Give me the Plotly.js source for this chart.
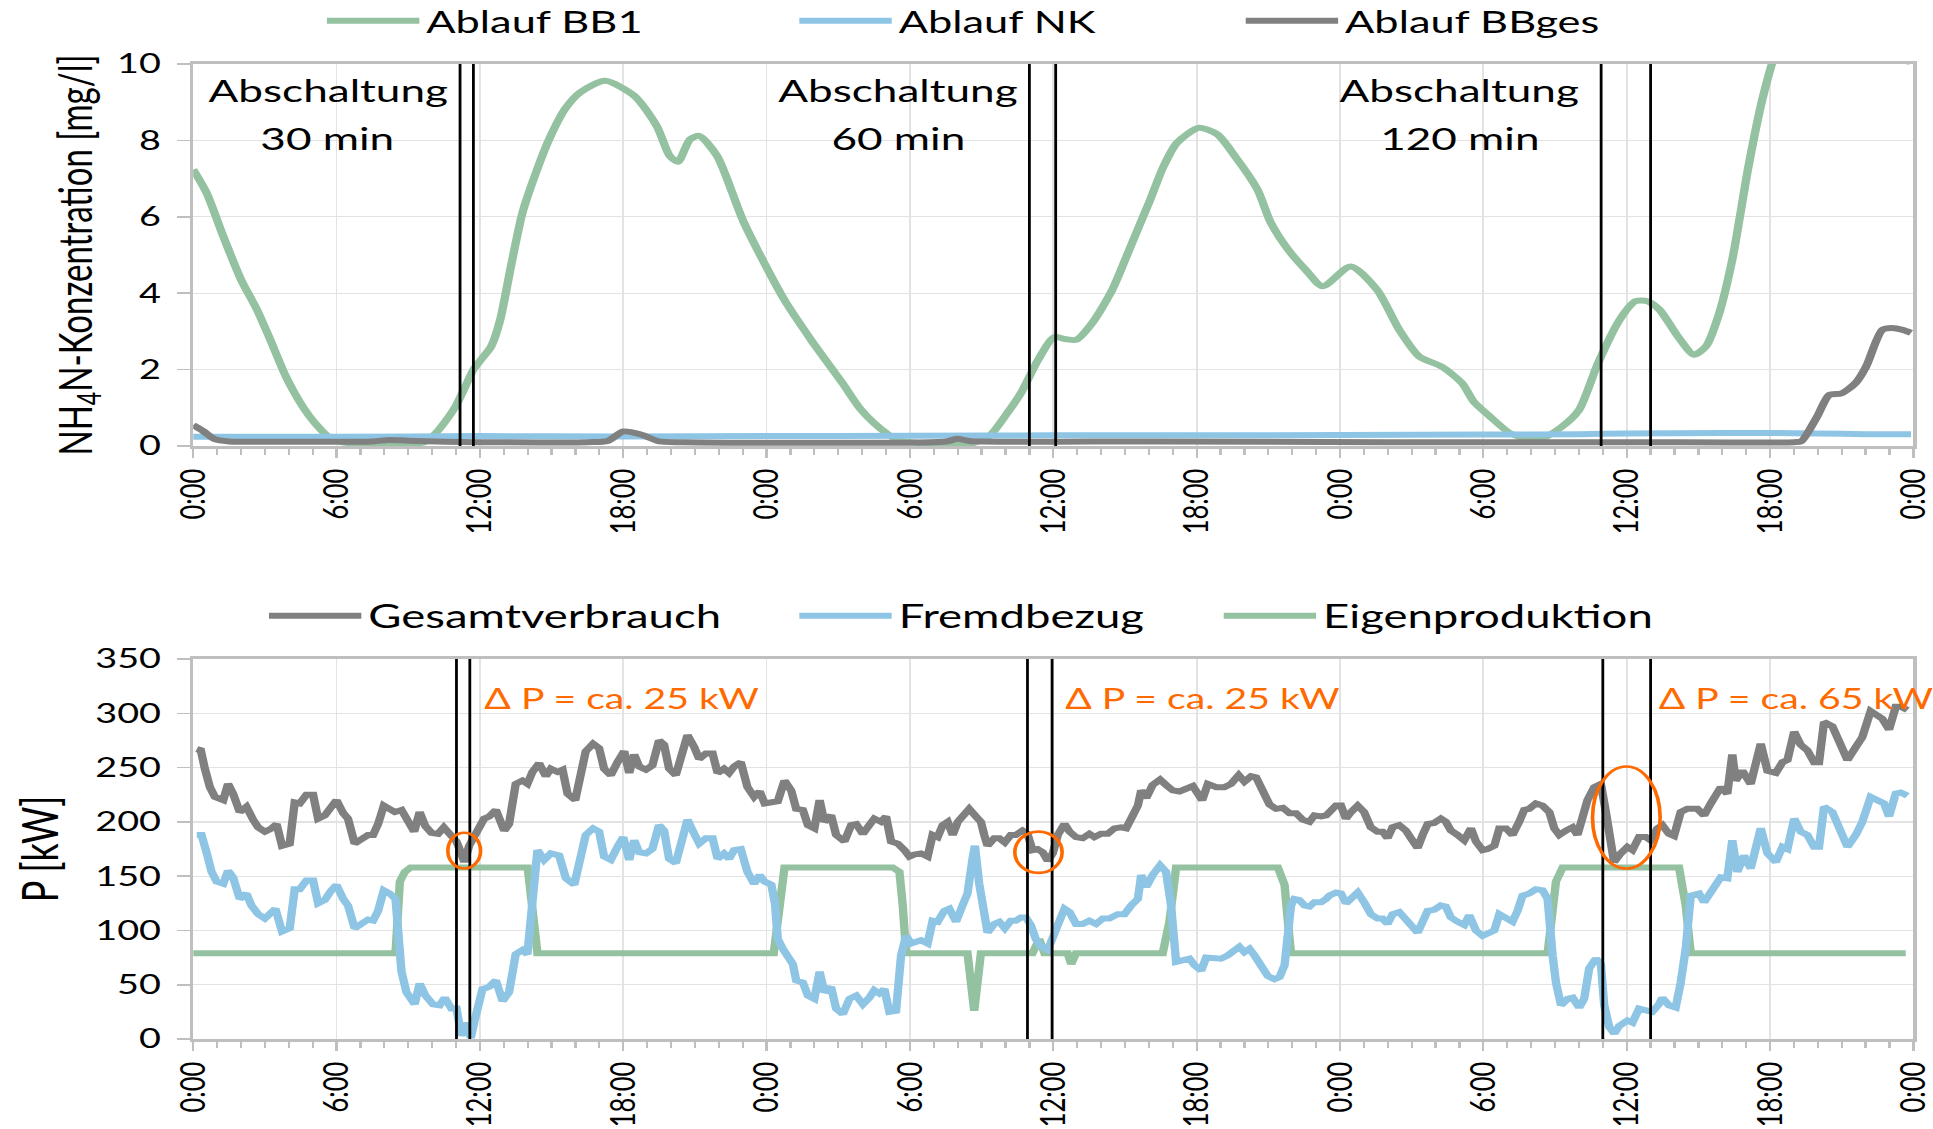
<!DOCTYPE html>
<html>
<head>
<meta charset="utf-8">
<script src="https://cdn.plot.ly/plotly-3.0.1.min.js"></script>
<style>
html,body{margin:0;padding:0;background:#fff;overflow:hidden;}
#chart{width:1381px;height:1129px;transform:scale(1.39971,1);transform-origin:0 0;}
</style>
</head>
<body>
<div id="chart"></div>
<script>
// ---------- tick labels ----------
const tickHours = [0,6,12,18,24,30,36,42,48,54,60,66,72];
const tickLabels = ["0:00","6:00","12:00","18:00","0:00","6:00","12:00","18:00","0:00","6:00","12:00","18:00","0:00"];

// ---------- top chart: NH4-N concentration [mg/l] ----------
const bb1_h = [0,0.56,1.26,2.0,2.67,3.23,3.88,4.63,5.1,5.65,6.2,7.0,8.0,9.0,9.7,10.1,10.5,10.98,11.35,11.73,12.1,12.47,12.85,13.3,13.78,14.35,14.9,15.56,16.2,17.24,18.46,19.4,19.95,20.29,20.8,21.18,21.93,23.05,24.74,25.86,27.17,27.9,28.5,29.03,29.5,30.5,31.5,32.5,33.3,34.07,34.64,35.37,36.04,36.5,36.96,37.63,38.47,39.3,40.06,40.6,41.18,42.1,42.86,43.6,44.54,45.1,45.83,46.58,47.27,48.45,49.55,50.48,51.32,52.25,53.1,53.6,54.28,55.13,55.8,56.47,57.3,58.0,58.8,59.7,60.37,60.87,61.37,62.14,62.82,63.32,63.83,64.42,65.1,65.68,66.28,67.0,68.5,70.0,71.2,71.9];
const bb1_v = [7.24,6.63,5.49,4.36,3.57,2.78,1.82,0.99,0.6,0.25,0.1,0.06,0.05,0.05,0.1,0.3,0.6,1.03,1.5,2.0,2.3,2.6,3.3,4.7,6.1,7.16,8.03,8.82,9.26,9.56,9.17,8.38,7.59,7.44,8.03,8.12,7.59,5.85,3.83,2.78,1.65,0.99,0.6,0.33,0.15,0.07,0.05,0.05,0.25,0.86,1.38,2.26,2.85,2.8,2.78,3.22,4.09,5.32,6.45,7.3,7.94,8.33,8.16,7.59,6.72,5.85,5.14,4.6,4.18,4.7,4.09,3.04,2.34,2.08,1.65,1.16,0.77,0.33,0.2,0.2,0.51,0.94,2.17,3.3,3.79,3.79,3.57,2.87,2.39,2.61,3.39,4.88,7.33,9.08,10.4,11.5,12.5,12.0,11.0,10.0];

const nk_h = [0,6,12,18,24,30,36,42,48,54,58,60,64,66,68,70,71.9];
const nk_v = [0.24,0.24,0.26,0.25,0.26,0.27,0.28,0.28,0.29,0.3,0.31,0.33,0.34,0.34,0.33,0.31,0.31];

const bbges_h = [0,0.4,0.9,1.5,4,7.5,8.2,9,12,16.5,17.35,18.0,18.74,19.5,20.5,31.5,32.0,32.5,40,50,60,67.0,67.3,67.97,68.48,68.99,69.58,70.02,70.7,71.1,71.55,71.9];
const bbges_v = [0.55,0.4,0.18,0.12,0.11,0.12,0.16,0.14,0.1,0.1,0.13,0.38,0.3,0.12,0.1,0.12,0.19,0.13,0.12,0.1,0.1,0.1,0.12,0.77,1.34,1.38,1.65,2.08,3.04,3.09,3.04,2.96];

// shut-off markers (hours) and labels, top chart
const topCuts = [11.17,11.73,35.0,36.1,58.93,61.0];
const abschaltX = [5.64,29.5,53.0];
const abschaltLine1 = ["Abschaltung","Abschaltung","Abschaltung"];
const abschaltLine2 = ["30 min","60 min","120 min"];

// ---------- bottom chart: power [kW] ----------
const ges_h = [0.15,0.32,0.49,0.7,0.91,1.26,1.46,1.67,1.95,2.23,2.51,2.72,3.0,3.28,3.49,3.72,4.04,4.25,4.46,4.74,5.02,5.23,5.51,5.79,6.0,6.28,6.48,6.76,7.04,7.32,7.53,7.74,7.98,8.23,8.44,8.72,9.0,9.25,9.48,9.72,9.97,10.25,10.49,10.74,11.02,11.15,11.35,11.55,11.83,12.18,12.39,12.67,13.02,13.22,13.5,13.78,13.99,14.2,14.48,14.76,14.97,15.25,15.46,15.67,15.99,16.22,16.43,16.74,16.99,17.2,17.48,17.76,18.04,18.25,18.46,18.67,18.95,19.22,19.5,19.71,19.92,20.2,20.48,20.69,20.97,21.18,21.46,21.74,21.95,22.22,22.43,22.64,22.92,23.2,23.48,23.71,23.92,24.27,24.47,24.75,25.03,25.24,25.52,25.73,26.0,26.22,26.42,26.7,26.91,27.26,27.54,27.75,28.03,28.3,28.51,28.79,29.0,29.21,29.49,29.77,29.98,30.19,30.46,30.74,30.95,31.16,31.37,31.58,31.79,32.0,32.2,32.48,32.76,32.97,33.11,33.25,33.53,33.74,33.97,34.22,34.43,34.71,34.92,35.13,35.34,35.56,35.77,35.98,36.19,36.47,36.68,36.95,37.23,37.51,37.72,38.0,38.28,38.56,38.84,39.05,39.33,39.54,39.68,39.89,40.16,40.47,40.72,41.0,41.28,41.56,41.84,42.23,42.47,42.82,43.16,43.44,43.76,44.0,44.28,44.49,44.77,45.05,45.33,45.61,45.89,46.16,46.44,46.72,46.93,47.21,47.42,47.7,47.83,48.04,48.25,48.46,48.74,49.01,49.29,49.57,49.78,49.99,50.2,50.48,50.76,50.97,51.25,51.46,51.67,51.94,52.22,52.43,52.64,52.92,53.2,53.48,53.69,53.97,54.18,54.46,54.67,54.95,55.22,55.5,55.71,55.92,56.2,56.48,56.76,56.97,57.18,57.46,57.73,57.94,58.15,58.36,58.64,58.92,59.13,59.34,59.47,59.75,60.03,60.24,60.52,60.8,61.0,61.28,61.49,61.77,61.98,62.26,62.54,62.96,63.24,63.52,63.94,64.21,64.42,64.56,64.84,65.19,65.61,65.89,66.24,66.52,66.73,67.01,67.28,67.56,67.84,68.05,68.26,68.61,68.89,69.24,69.59,69.86,70.21,70.49,70.7,70.98,71.26,71.47,71.75];
const ges_p = [267,266,249,232,223,220,235,226,209,214,202,195,191,194,198,178,180,218,217,225,225,203,206,215,220,208,203,180,185,188,188,198,215,212,209,211,200,191,209,196,190,189,195,188,182,175,163,178,188,203,205,211,192,198,235,238,235,246,254,242,249,246,248,226,220,249,265,272,268,249,243,255,265,245,262,251,248,252,275,271,249,243,262,280,269,258,263,263,245,249,245,251,255,232,223,228,217,219,219,238,229,212,211,197,194,220,200,206,188,182,197,198,189,197,203,200,205,182,180,174,168,170,171,168,188,186,197,200,188,200,206,212,205,200,188,178,185,185,181,188,188,192,189,174,175,172,164,171,188,198,191,186,185,189,186,189,189,194,195,194,206,215,229,222,234,239,234,229,228,231,233,220,235,232,232,235,243,237,242,241,228,216,212,213,208,208,202,200,206,205,206,214,215,215,203,209,215,209,195,191,191,185,195,197,192,185,176,188,198,199,203,200,192,188,183,194,182,174,175,178,194,194,188,200,211,212,217,215,209,194,188,192,195,188,202,220,232,235,209,172,163,171,177,174,186,186,183,194,197,189,187,209,212,212,206,217,232,226,262,238,247,235,272,247,245,255,257,283,271,266,255,255,292,288,274,257,269,278,302,298,295,285,306,306,303];

const fremd_h = [0.15,0.35,0.56,0.77,0.98,1.26,1.46,1.67,1.95,2.23,2.44,2.72,3.0,3.25,3.44,3.72,4.04,4.25,4.46,4.74,5.02,5.23,5.51,5.79,6.0,6.28,6.48,6.76,7.04,7.32,7.53,7.74,7.98,8.23,8.47,8.58,8.72,8.93,9.27,9.48,9.72,10.04,10.32,10.53,10.81,11.02,11.23,11.44,11.62,11.79,12.11,12.39,12.67,12.95,13.22,13.5,13.78,13.99,14.2,14.41,14.69,14.97,15.32,15.6,15.95,16.22,16.43,16.74,16.99,17.2,17.48,17.76,18.0,18.25,18.46,18.67,18.95,19.22,19.5,19.71,19.92,20.2,20.48,20.69,20.97,21.18,21.46,21.74,21.95,22.22,22.43,22.64,22.92,23.2,23.48,23.71,23.92,24.2,24.35,24.47,24.68,24.89,25.1,25.24,25.52,25.73,26.0,26.22,26.42,26.7,26.91,27.19,27.47,27.75,28.03,28.3,28.51,28.72,28.93,29.14,29.42,29.63,29.84,30.05,30.46,30.74,30.95,31.16,31.44,31.65,31.93,32.2,32.41,32.62,32.72,32.9,33.11,33.25,33.53,33.74,33.97,34.22,34.43,34.64,34.85,35.06,35.27,35.48,35.77,35.98,36.19,36.47,36.68,36.95,37.23,37.51,37.79,38.07,38.35,38.7,38.98,39.26,39.54,39.68,39.89,40.16,40.47,40.72,40.93,41.14,41.42,41.7,41.91,42.19,42.4,42.68,43.02,43.3,43.58,43.79,44.0,44.21,44.42,44.7,44.98,45.26,45.47,45.68,45.82,45.95,46.09,46.3,46.51,46.72,46.93,47.21,47.42,47.55,47.83,48.04,48.25,48.53,48.74,49.01,49.29,49.57,49.78,49.99,50.2,50.48,50.76,50.97,51.25,51.46,51.67,51.94,52.22,52.43,52.64,52.92,53.2,53.41,53.69,53.97,54.25,54.46,54.67,54.95,55.22,55.43,55.64,55.92,56.2,56.48,56.69,56.9,57.04,57.25,57.53,57.74,58.01,58.22,58.43,58.71,58.92,59.06,59.27,59.48,59.68,60.03,60.24,60.52,60.87,61.07,61.35,61.49,61.77,62.05,62.26,62.47,62.68,63.03,63.24,63.52,63.94,64.21,64.42,64.63,64.91,65.19,65.61,65.89,66.24,66.52,66.73,67.01,67.28,67.56,67.84,68.05,68.26,68.61,68.89,69.24,69.59,69.86,70.21,70.56,70.77,70.98,71.26,71.47,71.75];
const fremd_p = [188,188,172,154,145,143,155,149,129,134,123,115,111,115,120,99,102,138,138,146,146,125,128,137,142,129,123,102,106,110,109,118,137,134,129,105,62,43,32,51,40,32,31,38,28,28,3,15,1,18,46,48,54,35,43,78,82,78,123,174,165,171,169,148,142,172,188,194,191,168,165,177,186,165,183,172,171,175,197,192,166,162,182,202,189,180,185,185,166,171,166,174,175,154,143,151,145,142,125,92,83,74,69,54,52,40,37,62,43,48,28,23,37,40,32,38,45,42,46,25,26,77,95,88,91,88,109,108,118,120,108,123,134,166,178,143,111,98,106,108,102,109,109,112,112,105,92,85,82,92,105,120,117,106,106,109,106,111,111,115,115,123,129,151,140,151,160,154,123,71,72,74,68,63,75,74,74,77,82,85,80,83,77,66,58,55,57,68,92,123,129,128,123,122,126,126,129,132,135,134,125,132,135,126,115,111,111,106,115,117,111,105,98,109,118,119,123,122,112,108,105,114,100,95,97,100,115,112,108,118,132,134,138,137,129,77,52,31,37,38,29,37,65,74,69,31,11,5,12,17,15,28,26,25,32,38,31,29,52,83,132,134,126,135,149,148,183,154,169,157,194,171,163,177,175,203,191,188,177,177,214,209,194,177,188,200,223,220,217,205,226,227,224];

const eigen_h = [0,8.47,8.65,8.86,9.1,14.0,14.2,14.41,24.3,24.55,24.75,29.28,29.56,29.7,29.84,32.41,32.69,32.97,35.13,35.41,35.63,36.6,36.75,36.95,40.58,40.86,41.14,45.4,45.68,45.82,45.95,56.69,56.9,57.04,57.32,62.19,62.47,62.68,71.68];
const eigen_p = [79,79,145,154,158,158,120,79,79,132,158,158,154,123,79,79,26,79,79,92,79,79,69,79,79,108,158,158,142,108,79,79,123,145,158,158,123,79,79];

// shut-off markers and annotations, bottom chart
const bottomCuts = [11.02,11.58,34.92,35.95,59.0,61.0];
const ellX0 = [10.66,34.39,58.57];
const ellX1 = [12.03,36.37,61.4];
const ellY0 = [157,153,157];
const ellY1 = [190,191,251];
const dpX = [12.06,36.4,61.2];
const dpText = ["\u0394 P = ca. 25 kW","\u0394 P = ca. 25 kW","\u0394 P = ca. 65 kW"];

// ---------- styling ----------
const GREEN = '#94c2a1', BLUE = '#8ec5e5', GRAY = '#808080', ORANGE = '#ff6a00';
const FONT = 'Lato, "Open Sans", sans-serif';
const LW = 6;

const traces = [
  {x: bb1_h, y: bb1_v, name: 'Ablauf BB1', xaxis:'x', yaxis:'y', mode:'lines', line:{color:GREEN, width:LW, shape:'spline', smoothing:0.7}, legend:'legend'},
  {x: nk_h, y: nk_v, name: 'Ablauf NK', xaxis:'x', yaxis:'y', mode:'lines', line:{color:BLUE, width:LW, shape:'spline', smoothing:0.7}, legend:'legend2'},
  {x: bbges_h, y: bbges_v, name: 'Ablauf BBges', xaxis:'x', yaxis:'y', mode:'lines', line:{color:GRAY, width:LW, shape:'spline', smoothing:0.7}, legend:'legend3'},
  {x: eigen_h, y: eigen_p, name: 'Eigenproduktion', xaxis:'x2', yaxis:'y2', mode:'lines', line:{color:GREEN, width:LW}, legend:'legend6'},
  {x: fremd_h, y: fremd_p, name: 'Fremdbezug', xaxis:'x2', yaxis:'y2', mode:'lines', line:{color:BLUE, width:LW}, legend:'legend5'},
  {x: ges_h, y: ges_p, name: 'Gesamtverbrauch', xaxis:'x2', yaxis:'y2', mode:'lines', line:{color:GRAY, width:LW}, legend:'legend4'}
];

const shapes = [];
topCuts.forEach(h => shapes.push({type:'line', xref:'x', yref:'y', x0:h, x1:h, y0:0, y1:10, line:{color:'#000', width:2}}));
bottomCuts.forEach(h => shapes.push({type:'line', xref:'x2', yref:'y2', x0:h, x1:h, y0:0, y1:350, line:{color:'#000', width:2}}));
ellX0.forEach((v,i) => shapes.push({type:'circle', xref:'x2', yref:'y2', x0:ellX0[i], x1:ellX1[i], y0:ellY0[i], y1:ellY1[i], line:{color:ORANGE, width:2.6}}));

const annotations = [];
abschaltX.forEach((h,i) => {
  annotations.push({xref:'x', yref:'y', x:h, y:9.33, text:abschaltLine1[i], showarrow:false, xanchor:'center', yanchor:'middle', font:{family:FONT, size:31.5, color:'#000'}});
  annotations.push({xref:'x', yref:'y', x:h, y:8.07, text:abschaltLine2[i], showarrow:false, xanchor:'center', yanchor:'middle', font:{family:FONT, size:31.5, color:'#000'}});
});
dpX.forEach((h,i) => annotations.push({xref:'x2', yref:'y2', x:h, y:314, text:dpText[i], showarrow:false, xanchor:'left', yanchor:'middle', font:{family:FONT, size:28, color:ORANGE}}));

function xAxis(anchor){
  return {anchor:anchor, domain:[0,1], range:[0,72], tickmode:'array', tickvals:tickHours, ticktext:tickLabels, tickangle:-90,
    ticks:'outside', ticklen:9, tickwidth:1.6, tickcolor:'#bfbfbf', ticklabelstandoff:1, ticklabeloverflow:'allow',
    minor:{tickmode:'linear', tick0:0, dtick:1, ticks:'outside', ticklen:6.5, tickwidth:1.6, tickcolor:'#bfbfbf', showgrid:false},
    showgrid:true, gridcolor:'#e3e3e3', gridwidth:1.3, showline:true, mirror:true, linecolor:'#bfbfbf', linewidth:2.6,
    zeroline:false, tickfont:{family:FONT, size:25.5, color:'#000'}, fixedrange:true};
}
function yAxis(anchor, domain, range, dtick, title, tsize, standoff){
  return {anchor:anchor, domain:domain, range:range, dtick:dtick, tick0:0,
    ticks:'outside', ticklen:9, tickwidth:1.6, tickcolor:'#bfbfbf', ticklabelstandoff:6,
    showgrid:true, gridcolor:'#e3e3e3', gridwidth:1.3, showline:true, mirror:true, linecolor:'#bfbfbf', linewidth:2.6,
    zeroline:false, tickfont:{family:FONT, size:27, color:'#000'},
    title:{text:title, font:{family:FONT, size:tsize, color:'#000'}, standoff:standoff}, fixedrange:true};
}
function leg(x, y, fs){
  return {x:x, y:y, xanchor:'left', yanchor:'middle', orientation:'h', bgcolor:'rgba(0,0,0,0)', borderwidth:0,
    itemwidth:66, font:{family:FONT, size:fs, color:'#000'}};
}

const layout = {
  width:1381, height:1129,
  margin:{l:138, r:14, t:64, b:90, autoexpand:false},
  paper_bgcolor:'#ffffff', plot_bgcolor:'#ffffff',
  font:{family:FONT, size:27, color:'#000'},
  showlegend:true,
  xaxis: xAxis('y'),
  yaxis: yAxis('x', [0.6082,1], [0,10], 2, 'NH<sub>4</sub>N-Konzentration [mg/l]', 33, 8),
  xaxis2: xAxis('y2'),
  yaxis2: yAxis('x2', [0,0.3897], [0,350], 50, 'P [kW]', 36, 15),
  legend: leg(0.0737, 1.0441, 31),
  legend2: leg(0.3483, 1.0441, 31),
  legend3: leg(0.6078, 1.0441, 31),
  legend4: leg(0.0400, 0.4338, 32.5),
  legend5: leg(0.3483, 0.4338, 32.5),
  legend6: leg(0.5950, 0.4338, 32.5),
  shapes: shapes,
  annotations: annotations
};

Plotly.newPlot('chart', traces, layout, {displayModeBar:false, staticPlot:true});
</script>
</body>
</html>
